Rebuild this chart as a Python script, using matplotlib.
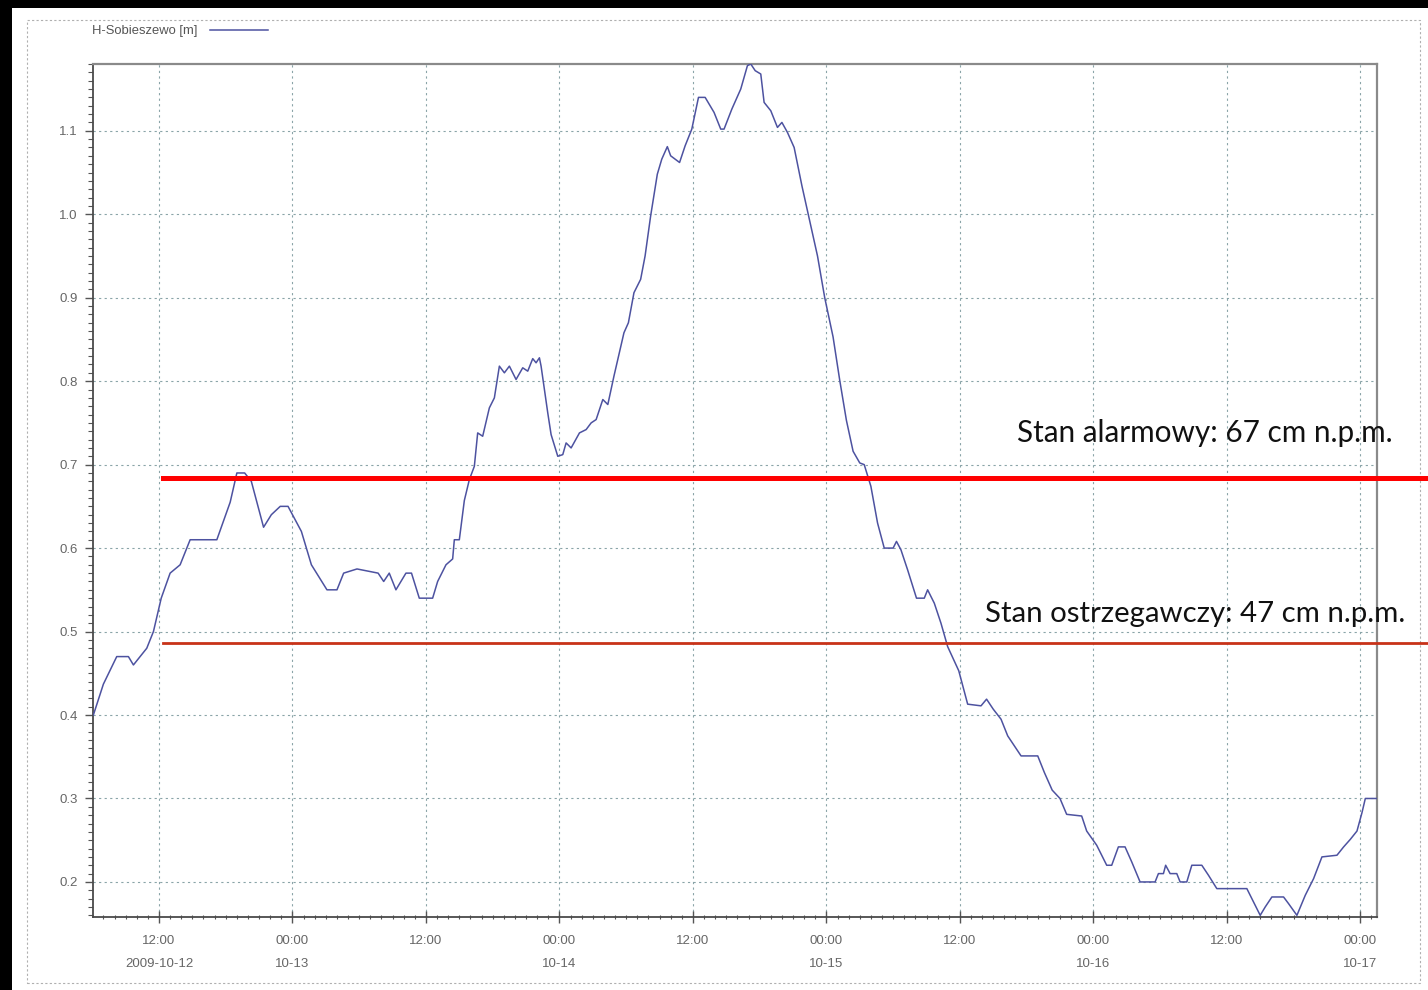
import numpy as np
import matplotlib
matplotlib.use('Agg')
import matplotlib.pyplot as plt
import matplotlib.dates as mdates
from matplotlib.patches import Rectangle
from matplotlib.ticker import MultipleLocator

# water level H-Sobieszewo, hours counted from 2009-10-12 00:00
hours = [6.1, 7.0, 8.2, 9.25, 9.7, 10.3, 10.9, 11.5, 12.2, 13.0, 13.9, 14.8, 17.2, 18.4,
         19.0, 19.7, 20.3, 21.4, 22.1, 22.9, 23.6, 24.8, 25.7, 27.1, 28.0, 28.6, 29.8,
         31.7, 32.2, 32.7, 33.3, 34.2, 34.7, 35.4, 36.6, 37.05, 37.8, 38.4, 38.55, 39.0,
         39.45, 39.9, 40.35, 40.65, 41.1, 41.7, 42.15, 42.6, 43.05, 43.5, 44.1, 44.7,
         45.15, 45.6, 45.9, 46.2, 46.35, 46.95, 47.25, 47.85, 48.3, 48.6, 49.05, 49.8,
         50.4, 50.85, 51.3, 51.9, 52.35, 52.9, 53.8, 54.2, 54.7, 55.3, 55.7, 56.2, 56.8,
         57.2, 57.7, 58.0, 58.4, 58.8, 59.3, 59.9, 60.5, 61.1, 61.9, 62.5, 62.8, 63.5,
         64.3, 64.9, 65.2, 65.6, 66.1, 66.4, 67.0, 67.6, 68.0, 68.5, 69.1, 69.8, 70.4,
         71.2, 71.85, 72.6, 73.2, 73.8, 74.4, 75.0, 75.4, 76.0, 76.6, 77.2, 78.0, 78.3,
         78.7, 79.3, 80.1, 80.8, 81.1, 81.7, 82.3, 82.9, 83.9, 84.7, 85.9, 86.4, 87.0,
         87.7, 88.3, 89.5, 91.0, 91.6, 92.3, 93.0, 93.6, 94.95, 95.4, 96.3, 97.2, 97.65,
         98.25, 98.85, 99.45, 100.2, 101.55, 101.85, 102.3, 102.5, 102.9, 103.5, 103.8,
         104.4, 104.85, 105.75, 106.35, 107.1, 109.8, 110.4, 111.0, 111.45, 112.05,
         113.1, 113.55, 114.3, 115.05, 115.8, 116.55, 117.9, 118.5, 119.1, 119.7,
         120.15, 120.45, 121.5]
levels = [0.40, 0.437, 0.47, 0.47, 0.46, 0.47, 0.48, 0.50, 0.54, 0.57, 0.58, 0.61, 0.61, 0.655,
          0.69, 0.69, 0.68, 0.625, 0.64, 0.65, 0.65, 0.62, 0.58, 0.55, 0.55, 0.57, 0.575,
          0.57, 0.56, 0.57, 0.55, 0.57, 0.57, 0.54, 0.54, 0.56, 0.58, 0.587, 0.61, 0.61,
          0.657, 0.682, 0.698, 0.738, 0.734, 0.768, 0.78, 0.818, 0.81, 0.818, 0.802, 0.816,
          0.812, 0.827, 0.822, 0.828, 0.818, 0.762, 0.736, 0.71, 0.712, 0.726, 0.72, 0.738,
          0.742, 0.75, 0.754, 0.778, 0.772, 0.806, 0.858, 0.87, 0.906, 0.922, 0.95, 0.998, 1.048,
          1.066, 1.081, 1.07, 1.066, 1.062, 1.082, 1.102, 1.14, 1.14, 1.122, 1.102, 1.102, 1.126,
          1.15, 1.178, 1.18, 1.172, 1.168, 1.134, 1.124, 1.104, 1.11, 1.098, 1.08, 1.034, 0.998,
          0.95, 0.90, 0.853, 0.801, 0.753, 0.716, 0.702, 0.70, 0.674, 0.63, 0.60, 0.60, 0.608,
          0.598, 0.574, 0.54, 0.54, 0.55, 0.534, 0.51, 0.482, 0.453, 0.413, 0.411, 0.419, 0.407,
          0.395, 0.375, 0.351, 0.351, 0.331, 0.31, 0.30, 0.281, 0.279, 0.261, 0.244, 0.22, 0.22,
          0.242, 0.242, 0.224, 0.20, 0.20, 0.21, 0.21, 0.22, 0.21, 0.21, 0.20,
          0.20, 0.22, 0.22, 0.208, 0.192, 0.192, 0.176, 0.16, 0.17, 0.182,
          0.182, 0.174, 0.16, 0.184, 0.204, 0.23, 0.232, 0.242, 0.251, 0.261,
          0.283, 0.30, 0.30]

tick_hours = [12, 24, 36, 48, 60, 72, 84, 96, 108, 120]
tick_labels = ['12:00\n2009-10-12', '00:00\n10-13', '12:00', '00:00\n10-14', '12:00',
               '00:00\n10-15', '12:00', '00:00\n10-16', '12:00', '00:00\n10-17']

alarm_level = 0.684
warn_level = 0.486
alarm_text = 'Stan alarmowy: 67 cm n.p.m.'
warn_text = 'Stan ostrzegawczy: 47 cm n.p.m.'
series_name = 'H-Sobieszewo [m]'

base = np.datetime64('2009-10-12T00:00')
def to_time(h):
    return base + (np.array(h) * 60).round().astype(int).astype('timedelta64[m]')

times = to_time(hours)

W, H = 1428, 990
fig = plt.figure(figsize=(W / 100, H / 100), dpi=100, facecolor='black')

# white panel and dotted frame
fig.patches.append(Rectangle((12 / W, 0), 1 - 12 / W, (H - 8) / H, transform=fig.transFigure,
                             facecolor='white', edgecolor='none', zorder=-2))
fig.patches.append(Rectangle((27 / W, 1 - 983 / H), (1420 - 27) / W, (983 - 20) / H,
                             transform=fig.transFigure, fill=False, edgecolor='#b0b0b0',
                             linestyle=(0, (2, 2)), lw=0.8, zorder=-1))

ax = fig.add_axes([93 / W, 1 - 917 / H, (1377 - 93) / W, (917 - 64) / H])
ax.set_facecolor('white')

ax.plot(times, levels, color='#4d52a0', lw=1.1, label=series_name, zorder=3)

ax.set_xlim(to_time(6.07), to_time(121.5))
ax.set_ylim(0.158, 1.18)

ax.set_xticks(to_time(tick_hours))
ax.set_xticklabels(tick_labels)
ax.xaxis.set_minor_locator(mdates.HourLocator(interval=1))
ax.yaxis.set_major_locator(MultipleLocator(0.1))
ax.yaxis.set_minor_locator(MultipleLocator(0.01))
ax.yaxis.set_major_formatter(matplotlib.ticker.FormatStrFormatter('%.1f'))

ax.tick_params(axis='x', which='major', direction='inout', length=8, width=1, color='#555555',
               labelsize=9.5, labelcolor='#666666', pad=9)
ax.tick_params(axis='x', which='minor', direction='inout', length=3, width=0.8, color='#555555')
ax.tick_params(axis='y', which='major', direction='out', length=6, width=1, color='#555555',
               labelsize=9.5, labelcolor='#666666', pad=5)
ax.tick_params(axis='y', which='minor', direction='out', length=3.5, width=0.8, color='#555555')
for t in ax.get_xticklabels():
    t.set_linespacing(2.25)
    t.set_family('Liberation Sans')
for t in ax.get_yticklabels():
    t.set_family('Liberation Sans')

ax.grid(which='major', color='#8aa4a8', linestyle=(0, (2, 3)), lw=0.8)
for side in ['left', 'bottom']:
    ax.spines[side].set_color('#4a4a4a')
    ax.spines[side].set_linewidth(1.3)
for side in ['top', 'right']:
    ax.spines[side].set_color('#8a8a8a')
    ax.spines[side].set_linewidth(1.6)

# alarm / warning levels
ax.axhline(alarm_level, xmin=(163 - 93) / 1284, xmax=(W - 93) / 1284, color='#ff0000', lw=3.6,
           clip_on=False, zorder=4)
ax.axhline(warn_level, xmin=(163 - 93) / 1284, xmax=(W - 93) / 1284, color='#c83218', lw=2.0,
           clip_on=False, zorder=4)
yt = ax.get_yaxis_transform()
ax.text((1393 - 93) / 1284, 0.727, alarm_text, transform=yt, ha='right', va='baseline',
        family='Lato', fontsize=21.4, color='#111111', clip_on=False)
ax.text((1405 - 93) / 1284, 0.5115, warn_text, transform=yt, ha='right', va='baseline',
        family='Lato', fontsize=21.2, color='#111111', clip_on=False)

leg = ax.legend(loc='center left', bbox_to_anchor=(92 / W, 1 - 31 / H), bbox_transform=fig.transFigure,
                frameon=False, markerfirst=False, handlelength=4.4, handletextpad=1.0,
                borderpad=0, borderaxespad=0, prop={'family': 'Liberation Sans', 'size': 9.4})
for t in leg.get_texts():
    t.set_color('#555555')

fig.savefig('out.png', dpi=100, facecolor=fig.get_facecolor())
